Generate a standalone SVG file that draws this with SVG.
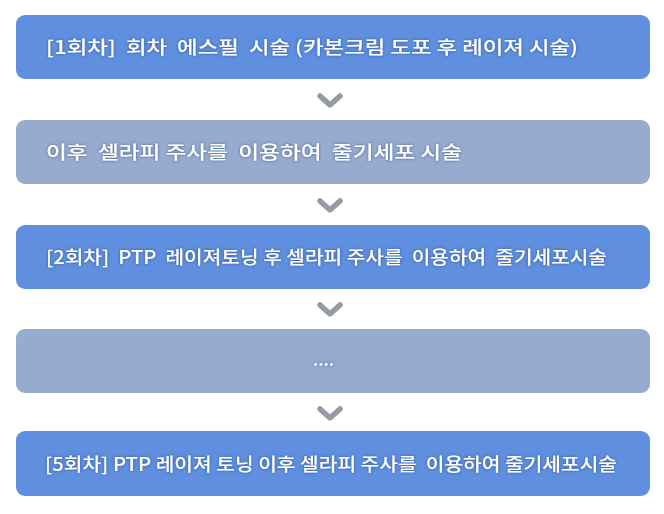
<svg xmlns="http://www.w3.org/2000/svg" width="664" height="514" viewBox="0 0 664 514">
<defs>
<style>
.box-a{fill:#5f8fde}
.box-b{fill:#97abcf}
.lbl{font-family:"Noto Sans CJK KR","Noto Sans",sans-serif;font-size:18px;font-weight:500;fill:#ffffff;white-space:pre;filter:url(#glow)}
.chev{fill:none;stroke:#959ba6;stroke-width:5.5;stroke-linecap:round;stroke-linejoin:round}
</style>
<filter id="glow" x="-10%" y="-50%" width="120%" height="200%">
<feDropShadow dx="0" dy="0" stdDeviation="1.6" flood-color="#1f3f7a" flood-opacity="0.7"/>
</filter>
</defs>
<rect width="664" height="514" fill="#ffffff"/>
<g id="connectors">
<path class="chev" d="M320,96 L330,105 L340,96"/>
<path class="chev" d="M320,201 L330,210 L340,201"/>
<path class="chev" d="M320,305 L330,314 L340,305"/>
<path class="chev" d="M320,409 L330,418 L340,409"/>
</g>
<g id="node1">
<rect class="box-a" x="16" y="15" width="634" height="64" rx="9"/>
<text class="lbl" x="46" y="54" textLength="532" lengthAdjust="spacingAndGlyphs" xml:space="preserve">[1회차]  회차  에스필  시술 (카본크림 도포 후 레이져 시술)</text>
</g>
<g id="node2">
<rect class="box-b" x="16" y="120" width="634" height="64" rx="9"/>
<text class="lbl" x="46" y="159" textLength="416" lengthAdjust="spacingAndGlyphs" xml:space="preserve">이후  셀라피 주사를  이용하여  줄기세포 시술</text>
</g>
<g id="node3">
<rect class="box-a" x="16" y="225" width="634" height="64" rx="9"/>
<text class="lbl" x="46" y="264" textLength="561" lengthAdjust="spacingAndGlyphs" xml:space="preserve">[2회차]  PTP  레이져토닝 후 셀라피 주사를  이용하여  줄기세포시술</text>
</g>
<g id="node4">
<rect class="box-b" x="16" y="329" width="634" height="64" rx="9"/>
<text class="lbl" x="313" y="366" textLength="21" lengthAdjust="spacingAndGlyphs">....</text>
</g>
<g id="node5">
<rect class="box-a" x="16" y="431" width="634" height="65" rx="9"/>
<text class="lbl" x="45" y="471" textLength="572" lengthAdjust="spacingAndGlyphs" xml:space="preserve">[5회차] PTP 레이져 토닝 이후 셀라피 주사를  이용하여 줄기세포시술</text>
</g>
</svg>
